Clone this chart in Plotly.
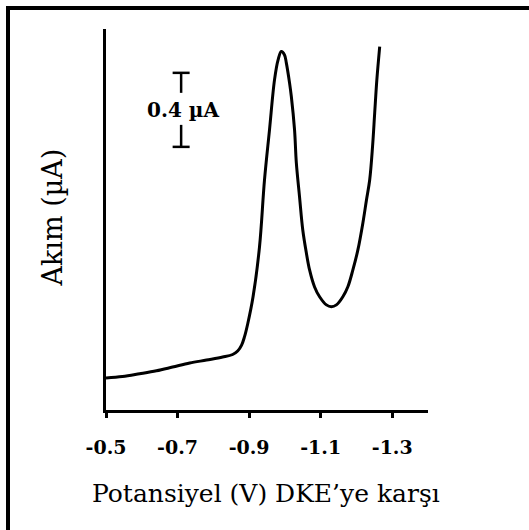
import plotly.graph_objects as go

# Polarogram: potential (V vs. SCE) and current (µA)
potential = [-0.500, -0.546, -0.594, -0.641, -0.686, -0.734, -0.781, -0.826, -0.854, -0.868,
             -0.879, -0.887, -0.896, -0.911, -0.929, -0.943, -0.957, -0.971, -0.981, -0.990,
             -0.999, -1.004, -1.013, -1.018, -1.027, -1.032, -1.041, -1.050, -1.060, -1.069,
             -1.083, -1.097, -1.116, -1.130, -1.144, -1.162, -1.176, -1.190, -1.204, -1.218,
             -1.228, -1.237, -1.245, -1.251, -1.257, -1.265]
current = [0.173, 0.181, 0.196, 0.212, 0.232, 0.254, 0.270, 0.286, 0.300, 0.319,
           0.351, 0.395, 0.465, 0.612, 0.881, 1.243, 1.514, 1.784, 1.892, 1.937,
           1.919, 1.876, 1.768, 1.694, 1.514, 1.335, 1.151, 0.973, 0.849, 0.757,
           0.665, 0.612, 0.568, 0.558, 0.568, 0.612, 0.666, 0.757, 0.865, 1.011,
           1.135, 1.243, 1.423, 1.605, 1.784, 1.964]

tick_values = [-0.5, -0.7, -0.9, -1.1, -1.3]
tick_labels = ["-0.5", "-0.7", "-0.9", "-1.1", "-1.3"]

x_title = "Potansiyel (V) DKE\u2019ye kar\u015f\u0131"
y_title = "Ak\u0131m (\u00b5A)"

# scale bar: 0.4 µA
scale_value = 0.4
scale_label = "0.4 \u00b5A"
scale_x = -0.710
scale_bottom = 1.422

W, H = 529, 530
L, R, T, B = 106, 101, 29, 120
PW, PH = W - L - R, H - T - B


def px_x(px):
    return (px - L) / PW


def px_y(py):
    return (H - B - py) / PH


fig = go.Figure()
fig.add_trace(go.Scatter(
    x=potential, y=current, mode="lines",
    line=dict(color="black", width=3, shape="spline", smoothing=1.0),
    hoverinfo="skip", showlegend=False,
))

serif = "DejaVu Serif"
ymax = 2.059
units_per_px = ymax / PH
volts_per_px = 0.9 / PW
cap = 8.5 * volts_per_px
top = scale_bottom + scale_value
gap_top = top - 20 * units_per_px
gap_bot = scale_bottom + 22 * units_per_px

shapes = [
    # scale bar stems and caps
    dict(type="line", xref="x", yref="y", x0=scale_x, x1=scale_x, y0=gap_top, y1=top,
         line=dict(color="black", width=2.5)),
    dict(type="line", xref="x", yref="y", x0=scale_x - cap, x1=scale_x + cap, y0=top, y1=top,
         line=dict(color="black", width=2.5)),
    dict(type="line", xref="x", yref="y", x0=scale_x, x1=scale_x, y0=scale_bottom, y1=gap_bot,
         line=dict(color="black", width=2.5)),
    dict(type="line", xref="x", yref="y", x0=scale_x - cap, x1=scale_x + cap,
         y0=scale_bottom, y1=scale_bottom, line=dict(color="black", width=2.5)),
    # outer frame (top and left edges)
    dict(type="path", xref="paper", yref="paper",
         path=f"M {px_x(8)} {px_y(600)} L {px_x(8)} {px_y(8)} L {px_x(600)} {px_y(8)}",
         line=dict(color="black", width=4)),
]

annotations = [
    dict(text=scale_label, x=scale_x - 1.5 * volts_per_px, y=scale_bottom + scale_value / 2,
         xref="x", yref="y", showarrow=False, xanchor="center", yanchor="middle",
         font=dict(family=serif, size=20, color="black", weight="bold")),
    dict(text=x_title, x=px_x(266), y=px_y(493), xref="paper", yref="paper",
         showarrow=False, xanchor="center", yanchor="middle",
         font=dict(family=serif, size=25, color="black")),
    dict(text=y_title, x=px_x(52), y=px_y(217.5), xref="paper", yref="paper",
         showarrow=False, xanchor="center", yanchor="middle", textangle=-90,
         font=dict(family=serif, size=27, color="black")),
]

fig.update_layout(
    width=W, height=H,
    margin=dict(l=L, r=R, t=T, b=B, pad=0),
    paper_bgcolor="white", plot_bgcolor="white",
    shapes=shapes, annotations=annotations,
    xaxis=dict(
        range=[-0.5, -1.4], tickvals=tick_values, ticktext=tick_labels,
        ticks="outside", ticklen=5, tickwidth=3, tickcolor="black",
        showline=True, linewidth=3, linecolor="black",
        showgrid=False, zeroline=False, ticklabelstandoff=13,
        tickfont=dict(family=serif, size=19, color="black", weight="bold"),
    ),
    yaxis=dict(
        range=[0, ymax], showticklabels=False, ticks="",
        showline=True, linewidth=3, linecolor="black",
        showgrid=False, zeroline=False,
    ),
)

fig.write_html("out.html")
